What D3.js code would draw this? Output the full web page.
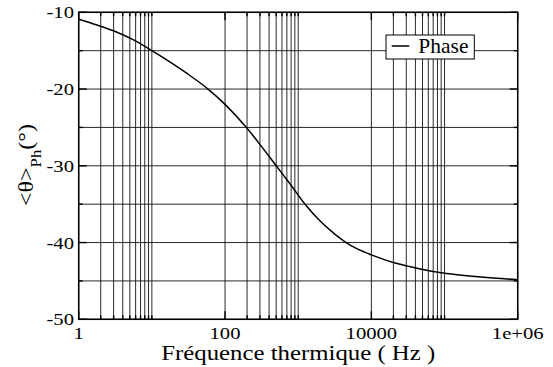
<!DOCTYPE html>
<html><head><meta charset="utf-8">
<script src="https://cdn.jsdelivr.net/npm/d3@7"></script>
<style>
body{margin:0;background:#fff}svg{display:block}
</style>
</head><body>
<script>
// Data
const freq  = [1, 1.78, 3.16, 5.62, 10, 17.8, 31.6, 58.6, 100, 196, 316, 501, 794, 1242, 1995, 3162, 4365, 6310, 10000, 20000, 50100, 100000, 316000, 1000000];
const phase = [-10.9, -11.65, -12.5, -13.6, -15.0, -16.5, -18.1, -20.0, -22.0, -25.0, -27.5, -30.0, -32.5, -35.0, -37.2, -38.9, -39.9, -40.8, -41.6, -42.6, -43.5, -44.0, -44.5, -44.85];
const xMajorTicks = [1, 100, 10000, 1000000];
const xTickLabels = ["1", "100", "10000", "1e+06"];
const xMinorMultipliers = [2, 3, 4, 5, 6, 7, 8, 9, 10];
const yMajorTicks = [-50, -40, -30, -20, -10];
const yTickLabels = ["-50", "-40", "-30", "-20", "-10"];
const yMinorTicks = [-45, -35, -25, -15];
const seriesName = "Phase";
const xTitle = "Fréquence thermique ( Hz )";

const W = 553, H = 367;
const m = {left: 78.7, right: 517.7, top: 12.3, bottom: 319.3};
const FF = "font-family:'Liberation Serif'";
const SX = 1.18;

const svg = d3.select("body").append("svg").attr("width", W).attr("height", H);
const x = d3.scaleLog().domain([1, 1e6]).range([m.left, m.right]);
const y = d3.scaleLinear().domain([-50, -10]).range([m.bottom, m.top]);

const xMinor = [];
xMajorTicks.slice(0, -1).forEach(t => xMinorMultipliers.forEach(k => xMinor.push(t * k)));

// grid
const grid = svg.append("g").attr("stroke", "#111").attr("stroke-width", 0.9);
[...xMajorTicks, ...xMinor].forEach(v => {
  grid.append("line").attr("x1", x(v)).attr("x2", x(v)).attr("y1", m.top).attr("y2", m.bottom);
});
[...yMajorTicks, ...yMinorTicks].forEach(v => {
  grid.append("line").attr("x1", m.left).attr("x2", m.right).attr("y1", y(v)).attr("y2", y(v));
});

// ticks (inward, all sides)
const tk = svg.append("g").attr("stroke", "#000").attr("stroke-width", 1.4);
xMajorTicks.forEach(v => {
  tk.append("line").attr("x1", x(v)).attr("x2", x(v)).attr("y1", m.bottom).attr("y2", m.bottom - 8);
  tk.append("line").attr("x1", x(v)).attr("x2", x(v)).attr("y1", m.top).attr("y2", m.top + 8);
});
xMinor.forEach(v => {
  tk.append("line").attr("x1", x(v)).attr("x2", x(v)).attr("y1", m.bottom).attr("y2", m.bottom - 4);
  tk.append("line").attr("x1", x(v)).attr("x2", x(v)).attr("y1", m.top).attr("y2", m.top + 4);
});
yMajorTicks.forEach(v => {
  tk.append("line").attr("x1", m.left).attr("x2", m.left + 8).attr("y1", y(v)).attr("y2", y(v));
  tk.append("line").attr("x1", m.right).attr("x2", m.right - 8).attr("y1", y(v)).attr("y2", y(v));
});
yMinorTicks.forEach(v => {
  tk.append("line").attr("x1", m.left).attr("x2", m.left + 4).attr("y1", y(v)).attr("y2", y(v));
  tk.append("line").attr("x1", m.right).attr("x2", m.right - 4).attr("y1", y(v)).attr("y2", y(v));
});

// curve
const pts = freq.map((f, i) => [f, phase[i]]);
svg.append("path").datum(pts)
  .attr("fill", "none").attr("stroke", "#000").attr("stroke-width", 1.5)
  .attr("d", d3.line().x(d => x(d[0])).y(d => y(d[1])).curve(d3.curveCatmullRom.alpha(0.5)));

// frame
svg.append("rect").attr("x", m.left).attr("y", m.top)
  .attr("width", m.right - m.left).attr("height", m.bottom - m.top)
  .attr("fill", "none").attr("stroke", "#000").attr("stroke-width", 1.5);

// tick labels
xMajorTicks.forEach((v, i) => {
  svg.append("text").attr("style", FF).attr("transform", `translate(${x(v)},338.5) scale(${SX},1)`)
    .attr("text-anchor", "middle").attr("font-size", 17.5)
    .text(xTickLabels[i]);
});
yMajorTicks.forEach((v, i) => {
  svg.append("text").attr("style", FF).attr("transform", `translate(74,${y(v) + 6}) scale(${SX},1)`)
    .attr("text-anchor", "end").attr("font-size", 17.5)
    .text(yTickLabels[i]);
});

// axis titles
svg.append("text").attr("style", FF).attr("transform", `translate(${(m.left + m.right) / 2},359.5) scale(1.21,1)`)
  .attr("text-anchor", "middle").attr("font-size", 20.5)
  .text(xTitle);

const yt = svg.append("text").attr("style", FF).attr("transform", `translate(33,165) rotate(-90) scale(1.2,1)`)
  .attr("text-anchor", "middle").attr("font-size", 20);
yt.append("tspan").text("<θ>");
yt.append("tspan").attr("dy", 8).attr("font-size", 14).text("Ph");
yt.append("tspan").attr("dy", -8).text("(°)");

// legend
const lg = svg.append("g");
lg.append("rect").attr("x", 386).attr("y", 35).attr("width", 88.3).attr("height", 24)
  .attr("fill", "#fff").attr("stroke", "#000").attr("stroke-width", 1);
lg.append("line").attr("x1", 391.7).attr("x2", 409.3).attr("y1", 46).attr("y2", 46)
  .attr("stroke", "#000").attr("stroke-width", 1.5);
lg.append("text").attr("style", FF).attr("x", 418.3).attr("y", 53.3).attr("font-size", 21.5)
  .text(seriesName);
</script>
</body></html>
